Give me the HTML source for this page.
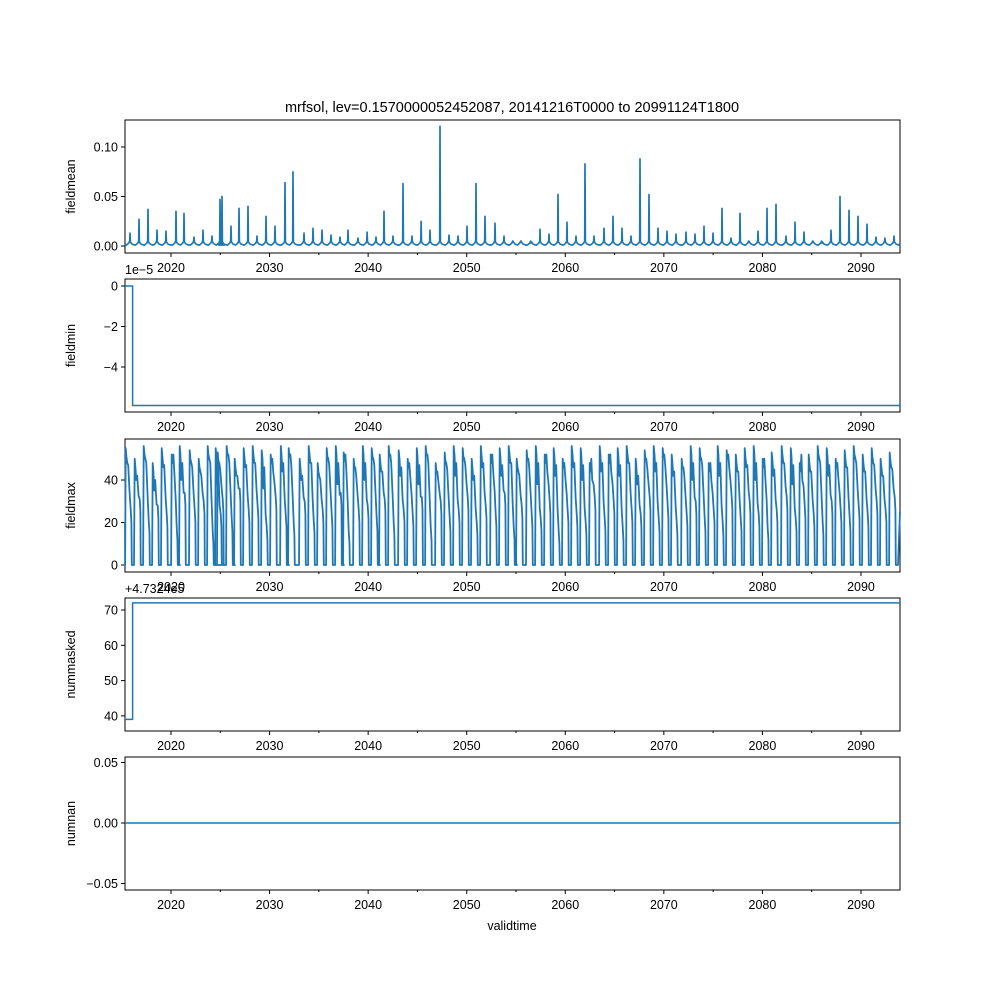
<!DOCTYPE html>
<html><head><meta charset="utf-8"><style>
body{margin:0;background:#fff}
svg{font-family:"Liberation Sans","DejaVu Sans",sans-serif}
</style></head><body>
<svg id="c" width="1000" height="1000" xmlns="http://www.w3.org/2000/svg">
<rect width="1000" height="1000" fill="#fff"/>
<text x="512" y="112" font-size="14.5" text-anchor="middle">mrfsol, lev=0.1570000052452087, 20141216T0000 to 20991124T1800</text>
</svg>
<script>
// ---- data ----
const yearTicks = [2020,2030,2040,2050,2060,2070,2080,2090];
const minorTicks = [2025,2035,2045,2055,2065,2075,2085];
const meanSpikeYears = [2015.84,2016.75,2017.67,2018.58,2019.49,2020.51,2021.32,2022.33,2023.25,2024.16,2024.97,2025.17,2026.09,2026.90,2027.81,2028.72,2029.64,2030.55,2031.57,2032.38,2033.49,2034.41,2035.32,2036.23,2037.15,2037.96,2038.97,2039.89,2040.80,2041.61,2042.52,2043.54,2044.45,2045.37,2046.28,2047.29,2048.20,2049.12,2050.03,2050.94,2051.86,2052.87,2053.78,2054.70,2055.51,2056.52,2057.44,2058.35,2059.26,2060.17,2061.09,2062.00,2062.91,2063.93,2064.84,2065.75,2066.67,2067.58,2068.49,2069.41,2070.32,2071.23,2072.25,2073.16,2074.07,2074.99,2075.90,2076.81,2077.73,2078.64,2079.55,2080.46,2081.38,2082.39,2083.31,2084.22,2085.13,2086.04,2086.96,2087.87,2088.78,2089.70,2090.61,2091.52,2092.43,2093.35];
const meanSpikeValues = [0.013,0.027,0.037,0.016,0.015,0.035,0.033,0.009,0.016,0.010,0.047,0.050,0.020,0.038,0.040,0.010,0.030,0.020,0.064,0.075,0.013,0.018,0.016,0.011,0.009,0.016,0.008,0.014,0.009,0.035,0.010,0.063,0.010,0.025,0.016,0.121,0.011,0.010,0.020,0.063,0.030,0.023,0.010,0.005,0.005,0.003,0.017,0.012,0.052,0.024,0.010,0.083,0.010,0.018,0.030,0.018,0.010,0.088,0.052,0.018,0.015,0.012,0.014,0.012,0.020,0.013,0.038,0.008,0.033,0.005,0.015,0.038,0.042,0.010,0.024,0.014,0.005,0.003,0.016,0.050,0.036,0.030,0.022,0.009,0.008,0.010];
const minStepYear = 2016.1;
const minValues = [0, -5.9];
const maskedValues = [39, 72];
const nanValue = 0;
// fieldmax per cycle: peak, end value before drop, mid-cycle value
const maxP1 = [55,50,56,48,55,52,56,54,50,56,55,53,56,50,55,56,54,52,56,55,50,56,48,55,56,53,50,56,55,52,56,54,50,55,56,48,53,56,55,50,56,52,55,56,50,54,56,52,55,50,56,55,48,56,52,55,56,50,54,56,55,52,50,56,55,48,56,54,52,55,56,50,53,56,55,48,52,56,55,50,54,56,52,55,50,53];
const maxP2 = [20,25,15,22,18,12,28,20,24,10,18,25,16,30,20,22,12,26,18,14,24,15,20,18,28,10,20,22,16,25,14,20,18,26,12,24,16,20,26,14,22,18,28,12,22,18,16,24,10,20,18,14,26,16,24,12,20,18,26,16,22,14,18,24,16,20,14,26,16,24,18,12,20,26,16,22,18,14,24,20,16,22,18,24,20,26];
const maxP3 = [48,40,50,35,46,52,40,48,44,50,38,48,52,42,46,48,36,50,44,52,40,48,42,50,38,52,46,40,50,44,52,42,48,38,52,44,48,42,50,40,46,52,42,48,44,50,38,52,42,48,46,40,50,44,52,42,48,38,50,44,52,42,46,40,50,48,42,52,44,46,40,50,42,48,38,52,44,50,42,48,46,50,44,48,42,46];

// ---- helpers ----
const svg = document.getElementById('c');
const NS = 'http://www.w3.org/2000/svg';
const X0 = 125, X1 = 900, BLUE = '#1f77b4';
const x = yr => 171 + (yr - 2020) * 9.857;
function mk(tag, attrs, parent){const e=document.createElementNS(NS,tag);for(const k in attrs)e.setAttribute(k,attrs[k]);(parent||svg).appendChild(e);return e;}
function txt(s,attrs){const t=mk('text',attrs);t.textContent=s;return t;}

function panel(name, top, bottom, yFn, yticks, ylabel){
  const g = mk('g',{});
  
  
  const r = mk('rect',{x:X0,y:top,width:X1-X0,height:bottom-top,fill:'none',stroke:'#000','stroke-width':1},g);
  
  
  yearTicks.forEach(yr=>{
    mk('line',{x1:x(yr),x2:x(yr),y1:bottom,y2:bottom+4,stroke:'#000'},g);
    const t = txt(String(yr),{x:x(yr),y:bottom+19,'font-size':12.5,'text-anchor':'middle'});
    
    
  });
  minorTicks.forEach(yr=>mk('line',{x1:x(yr),x2:x(yr),y1:bottom,y2:bottom+2,stroke:'#000'},g));
  yticks.forEach(v=>{
    const yy=yFn(v[0]);
    mk('line',{x1:X0-4,x2:X0,y1:yy,y2:yy,stroke:'#000'},g);
    const t = txt(v[1],{x:X0-7,y:yy+4.5,'font-size':12.5,'text-anchor':'end'});
    
    
  });
  const yl = txt(ylabel,{x:0,y:0,'font-size':12.5,'text-anchor':'middle',transform:`translate(75,${(top+bottom)/2}) rotate(-90)`});
  
  
  return g;
}
function line(pts, name, w){
  const p = mk('path',{d:'M'+pts.map(q=>q[0].toFixed(1)+','+q[1].toFixed(1)).join('L'),fill:'none',stroke:BLUE,'stroke-width':w||1.5,'stroke-linejoin':'round'});
  
  
}
const clip = (pts)=>pts.map(q=>[Math.min(X1,Math.max(X0,q[0])),q[1]]);

// panel 1 fieldmean
const y1 = v => 246 - v*990;
panel('fieldmean',120,253,y1,[[0,'0.00'],[0.05,'0.05'],[0.1,'0.10']],'fieldmean');
{ const pts=[[X0,y1(0.002)]];
  meanSpikeYears.forEach((yr,i)=>{
    const v=meanSpikeValues[i];
    pts.push([x(yr-0.35),y1(0.001)],[x(yr-0.12),y1(0.003)],[x(yr-0.03),y1(0.005)],[x(yr),y1(v)],[x(yr+0.04),y1(0.004)],[x(yr+0.2),y1(0.002)],[x(yr+0.45),y1(0.001)]);
  });
  pts.push([X1,y1(0.002)]);
  line(clip(pts),'fieldmean-line',1.7);
}
// panel 2 fieldmin
const y2 = v => 286 - v*20.25;
panel('fieldmin',279,412,y2,[[0,'0'],[-2,'−2'],[-4,'−4']],'fieldmin');
line([[X0,y2(minValues[0])],[x(minStepYear),y2(minValues[0])],[x(minStepYear),y2(minValues[1])],[X1,y2(minValues[1])]],'fieldmin-line');
{const t=txt('1e−5',{x:125,y:274,'font-size':12.5});}
// panel 3 fieldmax
const y3 = v => 565 - v*2.125;
panel('fieldmax',439,572,y3,[[0,'0'],[20,'20'],[40,'40']],'fieldmax');
{ const pts=[[X0,y3(maxP2[0])]];
  meanSpikeYears.forEach((yr,i)=>{
    const t=yr-0.5, L=0.92, p=maxP1[i], e=maxP2[i], m=maxP3[i];
    pts.push([x(t),y3(0)],[x(t+0.07*L),y3(p)],[x(t+0.15*L),y3(p-4)],[x(t+0.25*L),y3(m)],[x(t+0.35*L),y3(p-8)],[x(t+0.5*L),y3((m+e)/2)],[x(t+0.62*L),y3(e+6)],[x(t+0.7*L),y3(e)],[x(t+0.74*L),y3(0)],[x(t+0.98*L),y3(0)]);
  });
  pts.push([X1,y3(25)]);
  line(clip(pts),'fieldmax-line',1.8);
}
// panel 4 nummasked
const y4 = v => 610 - (v-70)*3.53;
panel('nummasked',598,731,y4,[[40,'40'],[50,'50'],[60,'60'],[70,'70']],'nummasked');
line([[X0,y4(maskedValues[0])],[x(minStepYear),y4(maskedValues[0])],[x(minStepYear),y4(maskedValues[1])],[X1,y4(maskedValues[1])]],'nummasked-line');
{const t=txt('+4.7324e5',{x:125,y:593,'font-size':12.5});}
// panel 5 numnan
const y5 = v => 823 - v*1210;
panel('numnan',757,890,y5,[[0.05,'0.05'],[0,'0.00'],[-0.05,'−0.05']],'numnan');
line([[X0,y5(nanValue)],[X1,y5(nanValue)]],'numnan-line');
{const t=txt('validtime',{x:512,y:930,'font-size':12.5,'text-anchor':'middle'});}
</script>
</body></html>
